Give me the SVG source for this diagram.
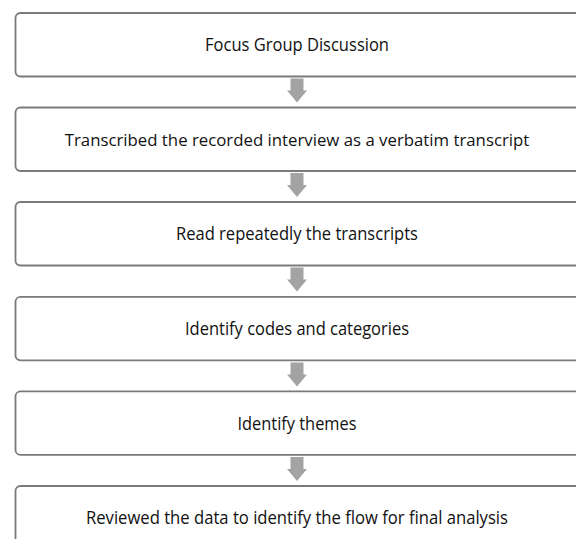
<svg xmlns="http://www.w3.org/2000/svg" width="576" height="539" viewBox="0 0 576 539">
  <style>
    .box { fill: #ffffff; stroke: #7a7a7a; stroke-width: 1.8; }
    .lbl { font-family: "Open Sans", "Liberation Sans", sans-serif; font-size: 18.5px; fill: #111111; text-anchor: middle; }
    .lbl2 { font-size: 16.8px; }
    .arr { fill: #a3a3a3; }
  </style>
  <defs>
    <path id="downArrow" class="arr" d="M-6.5,0 H6.5 V12 H10 L0,24 L-10,12 H-6.5 Z"/>
  </defs>
  <rect width="576" height="539" fill="#ffffff"/>
  <g id="connectors">
    <use href="#downArrow" x="297" y="78.5"/>
    <use href="#downArrow" x="297" y="173"/>
    <use href="#downArrow" x="297" y="267.5"/>
    <use href="#downArrow" x="297" y="362.5"/>
    <use href="#downArrow" x="297" y="457"/>
  </g>
  <g id="node1">
    <rect class="box" x="15.5" y="13" width="570" height="63.5" rx="5"/>
    <text class="lbl" x="297" y="51" textLength="184" lengthAdjust="spacingAndGlyphs">Focus Group Discussion</text>
  </g>
  <g id="node2">
    <rect class="box" x="15.5" y="107.5" width="570" height="63.5" rx="5"/>
    <text class="lbl lbl2" x="297" y="145.5">Transcribed the recorded interview as a verbatim transcript</text>
  </g>
  <g id="node3">
    <rect class="box" x="15.5" y="202" width="570" height="63.5" rx="5"/>
    <text class="lbl" x="297" y="240" textLength="242" lengthAdjust="spacingAndGlyphs">Read repeatedly the transcripts</text>
  </g>
  <g id="node4">
    <rect class="box" x="15.5" y="296.8" width="570" height="63.5" rx="5"/>
    <text class="lbl" x="297" y="335" textLength="224" lengthAdjust="spacingAndGlyphs">Identify codes and categories</text>
  </g>
  <g id="node5">
    <rect class="box" x="15.5" y="391.4" width="570" height="63.5" rx="5"/>
    <text class="lbl" x="297" y="429.5" textLength="119" lengthAdjust="spacingAndGlyphs">Identify themes</text>
  </g>
  <g id="node6">
    <rect class="box" x="15.5" y="486" width="570" height="63.5" rx="5"/>
    <text class="lbl" x="297" y="524" textLength="422" lengthAdjust="spacingAndGlyphs">Reviewed the data to identify the flow for final analysis</text>
  </g>
</svg>
